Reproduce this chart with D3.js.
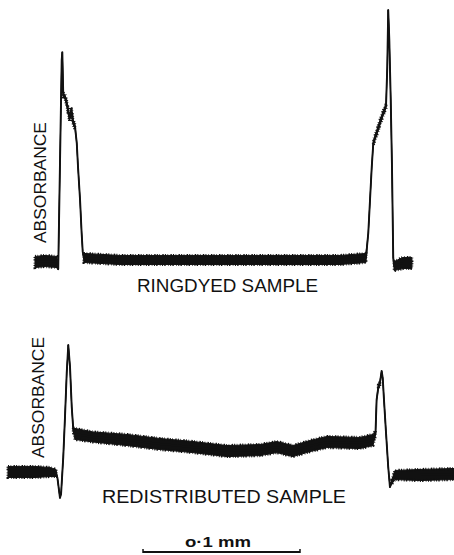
<!DOCTYPE html>
<html>
<head>
<meta charset="utf-8">
<script src="https://cdn.jsdelivr.net/npm/d3@7"></script>
<style>
  html, body { margin: 0; padding: 0; background: #fff; }
  svg { display: block; }
  text { font-family: "Liberation Sans", Arial, sans-serif; fill: #111; }
</style>
</head>
<body>
<svg id="chart" width="454" height="555"></svg>
<script>
// ---- DATA (distance in µm, absorbance in arbitrary units) ----
const topX = [22.3, 28.7, 36.3, 37.1, 39.3, 39.7, 40.3, 41.4, 42.5, 43.3, 44.3, 45.5, 46.5, 47.8, 48.9, 49.7, 51.0, 52.0, 52.7, 53.5, 76.4, 127.4, 178.3, 216.6, 233.1, 234.6, 235.7, 236.8, 237.8, 239.9, 242.0, 244.1, 245.9, 246.7, 247.3, 248.0, 248.9, 249.7, 250.5, 251.1, 256.7, 262.4];
const topA = [0.000, 0.004, 0.000, -0.028, 0.800, 0.833, 0.663, 0.655, 0.631, 0.603, 0.571, 0.603, 0.556, 0.536, 0.472, 0.377, 0.246, 0.115, 0.040, 0.016, 0.008, 0.008, 0.008, 0.008, 0.016, 0.115, 0.246, 0.377, 0.472, 0.512, 0.552, 0.591, 0.619, 0.774, 1.000, 0.881, 0.643, 0.377, 0.016, -0.016, -0.004, -0.004];
const topNoise = [0.022, 0.022, 0.022, 0.004, 0.0, 0.0, 0.008, 0.008, 0.008, 0.010, 0.010, 0.010, 0.010, 0.008, 0.004, 0.0, 0.0, 0.0, 0.0, 0.018, 0.018, 0.018, 0.018, 0.018, 0.018, 0.0, 0.0, 0.004, 0.008, 0.010, 0.010, 0.010, 0.008, 0.0, 0.0, 0.0, 0.0, 0.0, 0.0, 0.018, 0.022, 0.022];

const botX = [5.1, 12.7, 22.3, 31.8, 35.7, 36.6, 38.2, 38.9, 40.3, 41.4, 42.5, 43.5, 44.6, 45.7, 46.7, 47.8, 59.2, 80.9, 101.9, 122.9, 144.6, 165.6, 176.4, 186.6, 197.5, 208.3, 229.3, 237.6, 239.2, 239.9, 241.0, 242.0, 243.1, 243.8, 244.6, 245.9, 247.3, 248.4, 249.5, 251.6, 267.5, 289.2];
const botA = [0.004, 0.004, 0.004, 0.004, 0.000, -0.020, -0.099, -0.083, 0.063, 0.222, 0.397, 0.508, 0.421, 0.262, 0.171, 0.155, 0.143, 0.131, 0.115, 0.103, 0.087, 0.091, 0.103, 0.087, 0.107, 0.123, 0.119, 0.131, 0.159, 0.290, 0.341, 0.357, 0.405, 0.377, 0.290, 0.159, 0.024, -0.056, -0.036, -0.008, -0.008, -0.004];
const botNoise = [0.022, 0.022, 0.022, 0.018, 0.014, 0.0, 0.0, 0.0, 0.0, 0.0, 0.0, 0.0, 0.0, 0.0, 0.008, 0.022, 0.020, 0.022, 0.022, 0.022, 0.022, 0.022, 0.022, 0.022, 0.022, 0.022, 0.022, 0.022, 0.008, 0.004, 0.008, 0.008, 0.0, 0.0, 0.0, 0.0, 0.0, 0.0, 0.008, 0.018, 0.022, 0.022];

const yLabel = "ABSORBANCE";
const topTitle = "RINGDYED SAMPLE";
const botTitle = "REDISTRIBUTED SAMPLE";
const scaleBarStart = 91.1;   // µm
const scaleBarLength = 100;   // µm  (0.1 mm)
const scaleBarLabel = "o·1 mm";

// ---- SCALES ----
const svg = d3.select("#chart");
const x = d3.scaleLinear().domain([0, 289.2]).range([0, 454]);
const yTop = d3.scaleLinear().domain([0, 1]).range([262, 10]);
const yBot = d3.scaleLinear().domain([0, 1]).range([473, 221]);

function drawTrace(xs, as, ns, y) {
  const pts = xs.map((v, i) => ({ x: v, a: as[i], n: ns[i] }));
  const area = d3.area()
    .x(d => x(d.x))
    .y0(d => y(d.a - d.n))
    .y1(d => y(d.a + d.n));
  // solid noise envelope
  svg.append("path").datum(pts)
    .attr("d", area)
    .attr("fill", "#111")
    .attr("stroke", "#111")
    .attr("stroke-width", 1)
    .attr("stroke-linejoin", "round");
  // ragged edge of the noisy envelope (style only)
  const roughArea = d3.area()
    .defined(d => d.n >= 0.008)
    .x(d => x(d.x))
    .y0(d => y(d.a - d.n))
    .y1(d => y(d.a + d.n));
  svg.append("path").datum(pts)
    .attr("d", roughArea)
    .attr("fill", "none")
    .attr("stroke", "#111")
    .attr("stroke-width", 3)
    .attr("stroke-dasharray", "1 1.6 0.6 2.3 1.4 1.2");
  // centre trace
  const line = d3.line().x(d => x(d.x)).y(d => y(d.a));
  svg.append("path").datum(pts)
    .attr("d", line)
    .attr("fill", "none")
    .attr("stroke", "#111")
    .attr("stroke-width", 1.9)
    .attr("stroke-linejoin", "round");
}

drawTrace(topX, topA, topNoise, yTop);
drawTrace(botX, botA, botNoise, yBot);

// ---- LABELS ----
svg.append("text")
  .attr("transform", "translate(46,182.5) rotate(-90)")
  .attr("text-anchor", "middle")
  .attr("font-size", 16.5)
  .attr("textLength", 121).attr("lengthAdjust", "spacingAndGlyphs")
  .text(yLabel);
svg.append("text")
  .attr("transform", "translate(44,397.5) rotate(-90)")
  .attr("text-anchor", "middle")
  .attr("font-size", 16)
  .attr("textLength", 121).attr("lengthAdjust", "spacingAndGlyphs")
  .text(yLabel);

svg.append("text")
  .attr("x", 137).attr("y", 291.5)
  .attr("font-size", 18.5)
  .attr("textLength", 181).attr("lengthAdjust", "spacingAndGlyphs")
  .text(topTitle);
svg.append("text")
  .attr("x", 102).attr("y", 502.5)
  .attr("font-size", 19)
  .attr("textLength", 244).attr("lengthAdjust", "spacingAndGlyphs")
  .text(botTitle);

// ---- SCALE BAR ----
const sbY = 552;
const sb = svg.append("g");
sb.append("line")
  .attr("x1", x(scaleBarStart)).attr("x2", x(scaleBarStart + scaleBarLength))
  .attr("y1", sbY).attr("y2", sbY)
  .attr("stroke", "#111").attr("stroke-width", 2);
[scaleBarStart, scaleBarStart + scaleBarLength].forEach(v => {
  sb.append("line")
    .attr("x1", x(v)).attr("x2", x(v))
    .attr("y1", sbY - 3).attr("y2", sbY + 1)
    .attr("stroke", "#111").attr("stroke-width", 1.5);
});
sb.append("text")
  .attr("x", 185).attr("y", 547)
  .attr("font-size", 15).attr("font-weight", "bold")
  .attr("textLength", 66).attr("lengthAdjust", "spacingAndGlyphs")
  .text(scaleBarLabel);
</script>
</body>
</html>
